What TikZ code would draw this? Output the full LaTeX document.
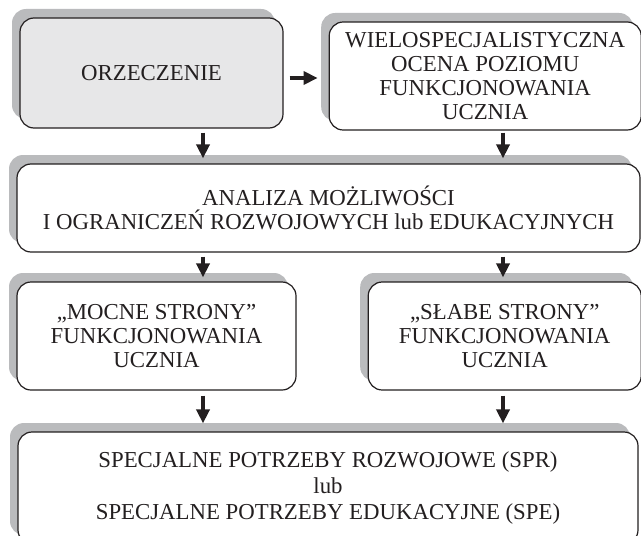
\documentclass[tikz,border=0pt]{standalone}
\usepackage{fontspec}
\setmainfont{Liberation Serif}
\usetikzlibrary{arrows.meta,positioning,shadows}
\definecolor{shadowgray}{RGB}{186,187,189}
\definecolor{boxgray}{RGB}{231,231,232}
\definecolor{inkblack}{RGB}{35,31,32}

\begin{document}
\begin{tikzpicture}[
    x=0.5pt, y=-0.5pt,
    node distance=10pt,
    box/.style={rectangle, rounded corners=7pt, draw=inkblack, line width=0.6pt, fill=white, align=center, inner sep=0pt,
        font=\fontsize{11.4}{12}\selectfont, text=inkblack,
        drop shadow={shadow xshift=-4pt, shadow yshift=4.5pt, fill=shadowgray, opacity=1}},
    arrow/.style={-{Triangle[length=7pt, width=6.5pt]}, line width=2pt, draw=inkblack}
]
    \useasboundingbox (0,0) rectangle (641,535);
    \clip (0,0) rectangle (641,535);
    \coordinate (colL) at (203,0);
    \coordinate (colR) at (503,0);

    \node[box, fill=boxgray, minimum width=131.5pt, minimum height=55pt] (orz) at (151.5,73) {ORZECZENIE};
    \node[box, minimum width=156pt, minimum height=54pt, right=22.5pt of orz, yshift=-1.5pt] (ocena)
        {WIELOSPECJALISTYCZNA\\OCENA POZIOMU\\FUNKCJONOWANIA\\UCZNIA};
    \node[box, minimum width=311.5pt, minimum height=44pt] (analiza) at (328.5,208)
        {ANALIZA MOŻLIWOŚCI\\I OGRANICZEŃ ROZWOJOWYCH lub EDUKACYJNYCH};
    \node[box, minimum width=139.5pt, minimum height=54pt] (mocne) at (156.5,336)
        {„MOCNE STRONY”\\FUNKCJONOWANIA\\UCZNIA};
    \node[box, minimum width=136.5pt, minimum height=54pt, right=35.5pt of mocne] (slabe)
        {„SŁABE STRONY”\\FUNKCJONOWANIA\\UCZNIA};
    \node[box, minimum width=310pt, minimum height=56pt, font=\fontsize{11.4}{13}\selectfont] (spec) at (328,488)
        {SPECJALNE POTRZEBY ROZWOJOWE (SPR)\\lub\\SPECJALNE POTRZEBY EDUKACYJNE (SPE)};

    \draw[arrow, shorten <=3pt, shorten >=5.5pt] ([yshift=-2.5pt]orz.east) -- ([yshift=-2.5pt]orz.east -| ocena.west);
    \draw[arrow, shorten <=2pt, shorten >=2.5pt] (orz.south -| colL) -- (analiza.north -| colL);
    \draw[arrow, shorten <=1pt, shorten >=2.5pt] (ocena.south -| colR) -- (analiza.north -| colR);
    \draw[arrow, shorten <=2pt, shorten >=2pt] (analiza.south -| colL) -- (mocne.north -| colL);
    \draw[arrow, shorten <=2pt, shorten >=2pt] (analiza.south -| colR) -- (slabe.north -| colR);
    \draw[arrow, shorten <=2.5pt, shorten >=4pt] (mocne.south -| colL) -- (spec.north -| colL);
    \draw[arrow, shorten <=2.5pt, shorten >=4pt] (slabe.south -| colR) -- (spec.north -| colR);
\end{tikzpicture}
\end{document}
